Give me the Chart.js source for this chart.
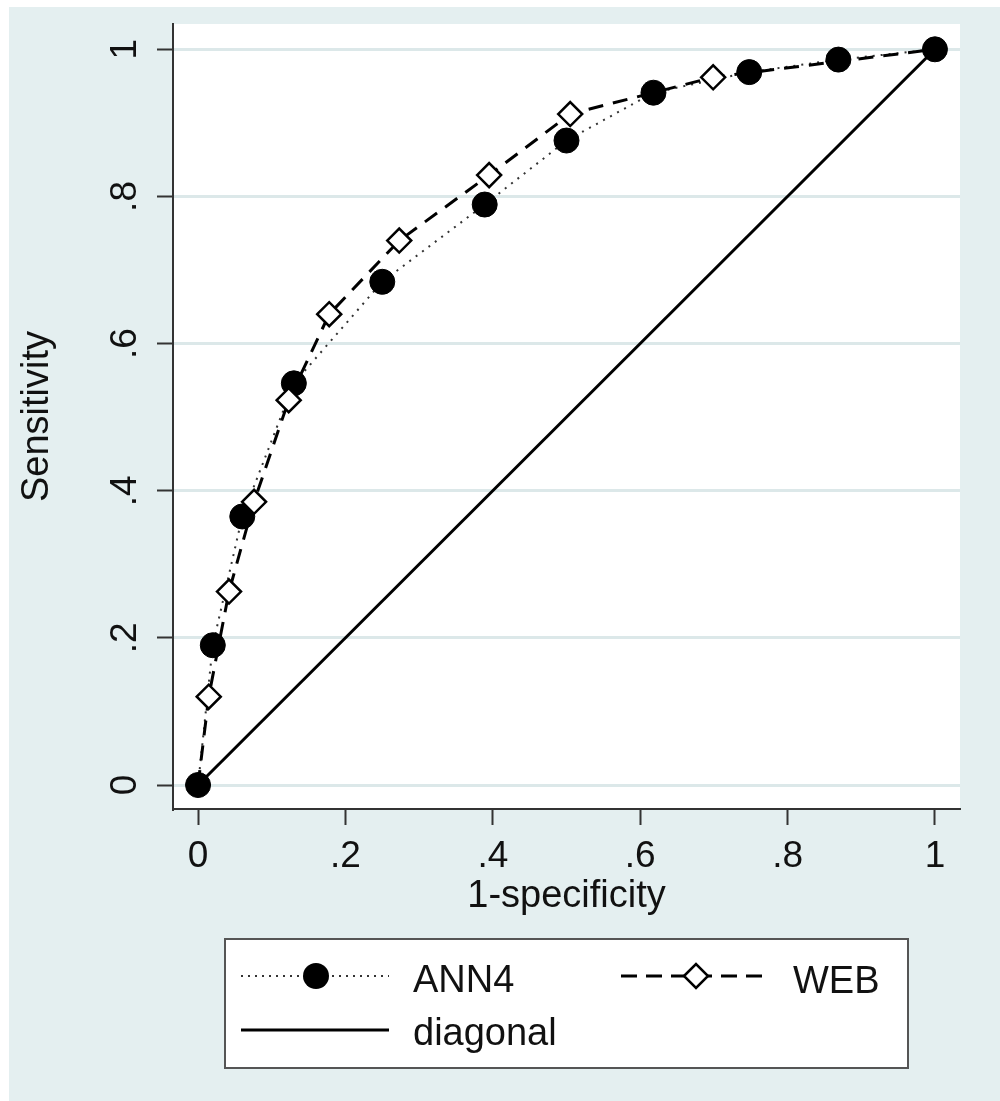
<!DOCTYPE html>
<html>
<head>
<meta charset="utf-8">
<script src="https://cdn.jsdelivr.net/npm/chart.js@4.4.1/dist/chart.umd.min.js"></script>
<style>
  body { margin: 0; background: #fff; }
  #wrap { width: 1000px; height: 1101px; }
</style>
</head>
<body>
<div id="wrap"><canvas id="roc" width="1000" height="1101"></canvas></div>
<script>
// ROC points
const annX = [0, 0.02, 0.06, 0.13, 0.25, 0.389, 0.5, 0.618, 0.748, 0.869, 1];
const annY = [0, 0.19, 0.365, 0.546, 0.684, 0.789, 0.876, 0.941, 0.969, 0.986, 1];
const webX = [0, 0.0145, 0.042, 0.076, 0.123, 0.178, 0.273, 0.395, 0.505, 0.699, 1];
const webY = [0, 0.12, 0.263, 0.385, 0.523, 0.64, 0.74, 0.829, 0.912, 0.962, 1];
const diagX = [0, 1];
const diagY = [0, 1];

const seriesNames = ['ANN4', 'WEB', 'diagonal'];
const tickValues = [0, 0.2, 0.4, 0.6, 0.8, 1];
const tickLabels = ['0', '.2', '.4', '.6', '.8', '1'];

const FONT = "'Liberation Sans', Arial, sans-serif";
const BG = '#e4eff0';
const GRID = '#dce8e9';
const INK = '#111';

function toPoints(xs, ys) {
  return xs.map((x, i) => ({ x: x, y: ys[i] }));
}

// background, white plot region
const backdrop = {
  id: 'backdrop',
  beforeDraw(chart) {
    const { ctx, chartArea: a } = chart;
    ctx.save();
    ctx.fillStyle = BG;
    ctx.fillRect(9, 7, chart.width - 9, chart.height - 7);
    ctx.fillStyle = '#fff';
    ctx.fillRect(a.left, a.top, a.right - a.left, a.bottom - a.top);
    ctx.restore();
  }
};

// legend box under the axis title
const boxLegend = {
  id: 'boxLegend',
  afterDraw(chart) {
    const ctx = chart.ctx;
    ctx.save();
    ctx.fillStyle = '#fff';
    ctx.fillRect(225, 939, 683, 129);
    ctx.strokeStyle = '#555';
    ctx.lineWidth = 2;
    ctx.strokeRect(225, 939, 683, 129);

    // ANN4 sample
    ctx.strokeStyle = '#333';
    ctx.lineWidth = 2;
    ctx.setLineDash([2, 5]);
    ctx.beginPath(); ctx.moveTo(241, 976); ctx.lineTo(389, 976); ctx.stroke();
    ctx.setLineDash([]);
    ctx.fillStyle = '#000';
    ctx.beginPath(); ctx.arc(316, 976, 13, 0, Math.PI * 2); ctx.fill();

    // WEB sample
    ctx.strokeStyle = '#000';
    ctx.lineWidth = 3;
    ctx.setLineDash([16, 9]);
    ctx.beginPath(); ctx.moveTo(621, 976); ctx.lineTo(771, 976); ctx.stroke();
    ctx.setLineDash([]);
    ctx.fillStyle = '#fff';
    ctx.lineWidth = 2.5;
    ctx.beginPath();
    ctx.moveTo(696 - 12, 976); ctx.lineTo(696, 976 - 12);
    ctx.lineTo(696 + 12, 976); ctx.lineTo(696, 976 + 12);
    ctx.closePath(); ctx.fill(); ctx.stroke();

    // diagonal sample
    ctx.lineWidth = 3;
    ctx.beginPath(); ctx.moveTo(241, 1030); ctx.lineTo(389, 1030); ctx.stroke();

    ctx.fillStyle = INK;
    ctx.font = '38px ' + FONT;
    ctx.textBaseline = 'alphabetic';
    ctx.textAlign = 'left';
    ctx.fillText(seriesNames[0], 413, 992);
    ctx.fillText(seriesNames[1], 793, 993);
    ctx.fillText(seriesNames[2], 413, 1045);
    ctx.restore();
  }
};

new Chart(document.getElementById('roc'), {
  type: 'scatter',
  data: {
    datasets: [
      {
        label: seriesNames[0],
        data: toPoints(annX, annY),
        showLine: true,
        borderColor: '#333',
        borderWidth: 2,
        borderDash: [2, 6],
        pointStyle: 'circle',
        pointRadius: 12.5,
        pointBorderWidth: 1,
        pointBackgroundColor: '#000',
        pointBorderColor: '#000',
        order: 2
      },
      {
        label: seriesNames[1],
        data: toPoints(webX, webY),
        showLine: true,
        borderColor: '#000',
        borderWidth: 3,
        borderDash: [15, 10],
        pointStyle: 'rectRot',
        // end points sit under the ANN4 circles
        pointRadius: c => (c.dataIndex === 0 || c.dataIndex === webX.length - 1) ? 0 : 12,
        pointBorderWidth: 2.5,
        pointBackgroundColor: '#fff',
        pointBorderColor: '#000',
        order: 1
      },
      {
        label: seriesNames[2],
        data: toPoints(diagX, diagY),
        showLine: true,
        borderColor: '#000',
        borderWidth: 3,
        pointRadius: 0,
        order: 3
      }
    ]
  },
  options: {
    responsive: false,
    animation: false,
    devicePixelRatio: 1,
    layout: { padding: { top: 24, right: 40, left: 0, bottom: 182 } },
    plugins: {
      legend: { display: false },
      tooltip: { enabled: false }
    },
    scales: {
      x: {
        type: 'linear',
        min: -0.034,
        max: 1.034,
        afterBuildTicks: s => { s.ticks = tickValues.map(v => ({ value: v })); },
        afterFit: s => { s.height = 110; s.paddingLeft = 0; s.paddingRight = 0; },
        grid: { drawOnChartArea: false, drawTicks: true, tickLength: 16, tickColor: '#333', tickWidth: 2 },
        border: { display: true, color: '#333', width: 2 },
        ticks: {
          font: { family: FONT, size: 37 },
          color: INK,
          padding: 10,
          maxRotation: 0,
          callback: (v, i) => tickLabels[i]
        },
        title: {
          display: true,
          text: '1-specificity',
          font: { family: FONT, size: 38 },
          color: INK,
          padding: { top: 0, bottom: 0 }
        }
      },
      y: {
        type: 'linear',
        min: -0.0326,
        max: 1.0344,
        afterBuildTicks: s => { s.ticks = tickValues.map(v => ({ value: v })); },
        afterFit: s => { s.width = 173; s.paddingTop = 0; s.paddingBottom = 0; },
        grid: { color: GRID, lineWidth: 3, drawTicks: true, tickLength: 16, tickColor: '#333', tickWidth: 2 },
        border: { display: true, color: '#333', width: 2 },
        ticks: {
          font: { family: FONT, size: 37 },
          color: INK,
          padding: 16,
          minRotation: 90,
          maxRotation: 90,
          crossAlign: 'center',
          callback: (v, i) => tickLabels[i]
        },
        title: {
          display: true,
          text: 'Sensitivity',
          font: { family: FONT, size: 38 },
          color: INK,
          padding: { top: 15, bottom: 0 }
        }
      }
    }
  },
  plugins: [backdrop, boxLegend]
});
</script>
</body>
</html>
